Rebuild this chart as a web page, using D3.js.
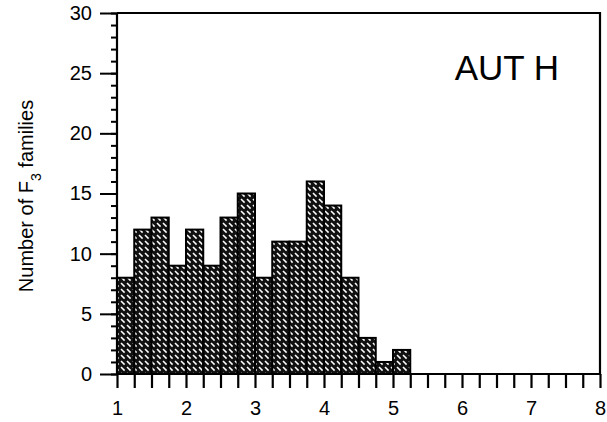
<!DOCTYPE html>
<meta charset="utf-8">
<script src="https://d3js.org/d3.v7.min.js"></script>
<style>
body { margin: 0; background: white; font-family: "Liberation Sans", Arial, sans-serif; }
</style>
<div id="chart"></div>
<script>
// bin starts (width 0.25) and counts
var binStarts = [1, 1.25, 1.5, 1.75, 2, 2.25, 2.5, 2.75, 3, 3.25, 3.5, 3.75, 4, 4.25, 4.5, 4.75, 5]
var counts    = [8, 12, 13, 9, 12, 9, 13, 15, 8, 11, 11, 16, 14, 8, 3, 1, 2]
var binWidth = 0.25
var xTickLabels = [1, 2, 3, 4, 5, 6, 7, 8]
var yTickLabels = [0, 5, 10, 15, 20, 25, 30]

var width = 607, height = 422
var mLeft = 117, mRight = 600, mTop = 13, mBottom = 374
var font = "'Liberation Sans', Arial, sans-serif"

var svg = d3.select("#chart").append("svg")
  .attr("width", width).attr("height", height)

// crosshatch fill: black with white diagonal dashes
var defs = svg.append("defs")
var pat = defs.append("pattern")
  .attr("id", "hatch")
  .attr("patternUnits", "userSpaceOnUse")
  .attr("width", 6).attr("height", 6)
pat.append("rect").attr("width", 6).attr("height", 6).attr("fill", "#111")
pat.append("line")
  .attr("x1", 1).attr("y1", 1).attr("x2", 4.6).attr("y2", 4.6)
  .attr("stroke", "white").attr("stroke-width", 1.5)

var x = d3.scaleLinear().domain([1, 8]).range([mLeft, mRight])
var y = d3.scaleLinear().domain([0, 30]).range([mBottom, mTop])

// bars
svg.append("g")
  .selectAll("rect")
  .data(binStarts)
  .enter()
  .append("rect")
    .attr("x", function(d){ return x(d) })
    .attr("y", function(d, i){ return y(counts[i]) })
    .attr("width", x(1 + binWidth) - x(1))
    .attr("height", function(d, i){ return y(0) - y(counts[i]) })
    .attr("fill", "url(#hatch)")
    .attr("stroke", "#000")
    .attr("stroke-width", 2)

// x axis: tick every bin width, labels on integers
var xTicks = d3.range(1, 8.001, binWidth)
var xAxis = d3.axisBottom(x)
  .tickValues(xTicks)
  .tickSize(14)
  .tickFormat(function(d){ return xTickLabels.indexOf(d) >= 0 ? d : "" })
var gx = svg.append("g").attr("transform", "translate(0," + mBottom + ")").call(xAxis)
gx.select(".domain").remove()
gx.selectAll(".tick line").attr("stroke", "#000").attr("stroke-width", 2.2)
gx.selectAll(".tick text")
  .attr("y", 27).attr("dy", "0.71em")
  .attr("fill", "#000")
  .style("font-size", "20px")
  .style("font-family", font)

// y axis: minor ticks every 1
var yMinor = d3.axisLeft(y).tickValues(d3.range(0, 31, 1)).tickSize(6).tickFormat("")
var gym = svg.append("g").attr("transform", "translate(" + mLeft + ",0)").call(yMinor)
gym.select(".domain").remove()
gym.selectAll(".tick line").attr("stroke", "#000").attr("stroke-width", 2)

var yAxis = d3.axisLeft(y).tickValues(yTickLabels).tickSize(17).tickPadding(8)
var gy = svg.append("g").attr("transform", "translate(" + mLeft + ",0)").call(yAxis)
gy.select(".domain").remove()
gy.selectAll(".tick line").attr("stroke", "#000").attr("stroke-width", 2)
gy.selectAll(".tick text")
  .attr("fill", "#000")
  .style("font-size", "20px")
  .style("font-family", font)

// frame: left, bottom, right, top
svg.append("path")
  .attr("d", "M" + mLeft + "," + mTop + "V" + mBottom + "H" + mRight + "V" + mTop + "H" + mLeft)
  .attr("fill", "none").attr("stroke", "#000").attr("stroke-width", 2.2)

// y label
svg.append("text")
  .attr("transform", "translate(33,196) rotate(-90)")
  .attr("text-anchor", "middle")
  .style("font-size", "20px")
  .style("font-family", font)
  .html('Number of F<tspan baseline-shift="sub" font-size="14px">3</tspan> families')

// panel label
svg.append("text")
  .attr("x", 559).attr("y", 80)
  .attr("text-anchor", "end")
  .style("font-size", "35px")
  .style("font-family", font)
  .text("AUT H")
</script>
